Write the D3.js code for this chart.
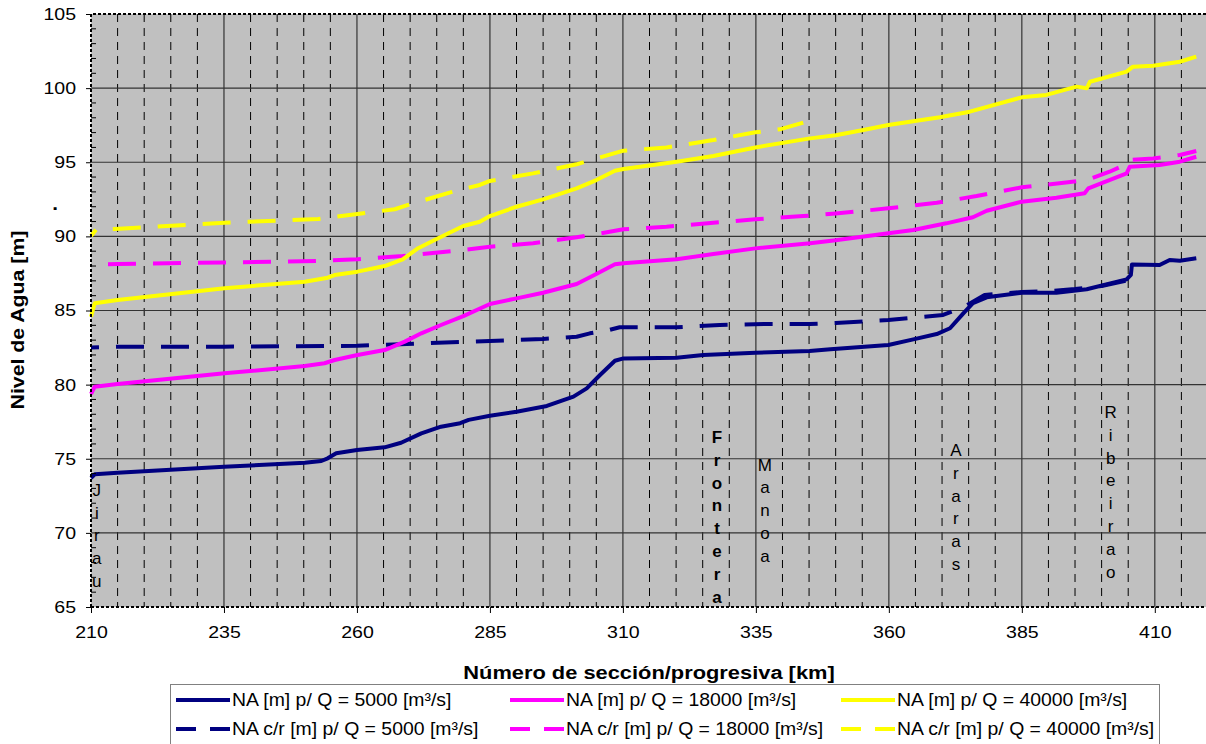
<!DOCTYPE html>
<html>
<head>
<meta charset="utf-8">
<script src="https://cdn.jsdelivr.net/npm/d3@7"></script>
<style>
  html, body { margin: 0; padding: 0; background: #ffffff; }
  svg { display: block; font-family: "Liberation Sans", Arial, sans-serif; }
</style>
</head>
<body>
<svg id="chart" width="1206" height="744"></svg>
<script>
// Water level profiles along the river (km) for three discharges,
// natural condition (NA) and with reservoir (NA c/r).

const km5000 = [210, 210.7, 215, 235, 250.2, 253.3, 254.5, 256.1, 260, 265.2, 268.3, 272.1, 275.8, 279.4, 281, 285, 290, 295.7, 300.7, 303.2, 305.7, 308.5, 310.1, 320.1, 325.1, 334.9, 345.1, 349, 359.9, 364.6, 369, 371.5, 374, 375.8, 378.4, 385, 391.5, 397.2, 404.7, 405.5, 405.7, 410.9, 412.8, 414.7, 417.8];
const na5000 = [73.7, 73.95, 74.06, 74.46, 74.73, 74.85, 75.03, 75.37, 75.59, 75.77, 76.08, 76.71, 77.16, 77.4, 77.62, 77.9, 78.17, 78.56, 79.19, 79.75, 80.65, 81.61, 81.77, 81.82, 82.0, 82.15, 82.27, 82.38, 82.67, 83.05, 83.41, 83.8, 84.81, 85.49, 85.89, 86.2, 86.2, 86.43, 87.1, 87.4, 88.11, 88.07, 88.41, 88.36, 88.52];

const km18000 = [210, 210.7, 215, 235.1, 250.2, 253.9, 255.8, 260.1, 265.2, 269, 272.1, 275.8, 280, 285, 290, 295, 301.3, 305, 308.5, 310.1, 320.1, 327, 334.9, 345.2, 350, 359.9, 364.6, 370.8, 375.8, 378.4, 385, 391.5, 396.8, 397.5, 404.7, 405.3, 410.9, 414.7, 417.8];
const na18000 = [79.37, 79.86, 80.04, 80.76, 81.26, 81.44, 81.66, 82.0, 82.33, 82.9, 83.46, 84.02, 84.62, 85.44, 85.82, 86.2, 86.79, 87.46, 88.12, 88.19, 88.45, 88.81, 89.19, 89.53, 89.74, 90.21, 90.43, 90.88, 91.29, 91.73, 92.34, 92.61, 92.91, 93.24, 94.25, 94.7, 94.81, 95.04, 95.37];

const km40000 = [210, 210.7, 215, 235.1, 250.2, 254.5, 255.8, 260.1, 265.2, 268.6, 271.5, 274.6, 280, 283.1, 285, 290, 295, 301.3, 305, 308.5, 310.1, 320.1, 327, 334.9, 345.2, 350, 355.2, 359.9, 369.6, 375.2, 385, 389.6, 395.3, 397.2, 397.8, 404.7, 405.9, 409.7, 414.7, 417.8];
const na40000 = [84.58, 85.49, 85.71, 86.5, 86.94, 87.21, 87.39, 87.62, 88.0, 88.45, 89.2, 89.76, 90.7, 90.99, 91.37, 92.0, 92.5, 93.24, 93.8, 94.43, 94.55, 95.04, 95.42, 96.0, 96.61, 96.82, 97.18, 97.51, 98.03, 98.41, 99.38, 99.54, 100.1, 99.99, 100.43, 101.11, 101.45, 101.51, 101.78, 102.12];

const kmRes5000 = [210, 215, 235, 260, 281.6, 295, 301.3, 303.8, 306.9, 309.4, 320.1, 328.2, 337, 345.1, 350, 359.9, 370.2, 374, 378, 385, 390, 395, 400, 404.5];
const naRes5000 = [82.5, 82.56, 82.56, 82.62, 82.9, 83.08, 83.23, 83.46, 83.64, 83.87, 83.87, 84.02, 84.09, 84.09, 84.16, 84.36, 84.7, 85.22, 86.05, 86.25, 86.3, 86.45, 86.65, 87.0];

const kmRes18000 = [210, 215, 235, 252.7, 260.1, 268.6, 280, 285, 293.1, 301.3, 305.7, 310.1, 318.2, 327, 334.9, 343.9, 350, 359.9, 369, 376.5, 385, 393.7, 397.2, 401.5, 405, 405.3, 409.7, 414.7, 417.8];
const naRes18000 = [88.1, 88.14, 88.24, 88.34, 88.45, 88.68, 89.08, 89.3, 89.53, 89.94, 90.2, 90.48, 90.65, 90.92, 91.15, 91.37, 91.54, 91.89, 92.27, 92.72, 93.31, 93.65, 93.8, 94.36, 94.93, 95.15, 95.26, 95.49, 95.76];

const kmRes40000 = [210, 211, 214.5, 235.1, 252.7, 260.1, 267.1, 269.6, 277.4, 280.9, 283.1, 285, 293.1, 301.3, 305.7, 310.1, 318.2, 327, 334.9, 339.5, 343.9];
const naRes40000 = [90.03, 90.48, 90.5, 90.92, 91.17, 91.51, 91.83, 92.12, 92.95, 93.28, 93.47, 93.74, 94.25, 94.86, 95.33, 95.78, 96.0, 96.5, 97.02, 97.22, 97.67];

const yTicks = [65, 70, 75, 80, 85, 90, 95, 100, 105];
const xTicks = [210, 235, 260, 285, 310, 335, 360, 385, 410];

const seriesNames = [
  "NA [m] p/ Q = 5000 [m³/s]",
  "NA [m] p/ Q = 18000 [m³/s]",
  "NA [m] p/ Q = 40000 [m³/s]",
  "NA c/r [m] p/ Q = 5000 [m³/s]",
  "NA c/r [m] p/ Q = 18000 [m³/s]",
  "NA c/r [m] p/ Q = 40000 [m³/s]"
];

// Station names written as stacked letters inside the plot
const stationNames = ["Jirau", "Frontera", "Manoa", "Araras", "Ribeirao"];
const stationKm = [211.1, 327.7, 336.7, 372.6, 401.7];
const stationTop = [72.5, 76.06, 74.2, 75.19, 77.75];
const stationBold = [false, true, false, false, false];

const colors = ["#000080", "#ff00ff", "#ffff00"];

const svg = d3.select("#chart");
const pL = 91, pT = 14, pB = 607, pR = 1208;
const stretch = 1.15; // text is drawn slightly wide

const x = d3.scaleLinear().domain([210, 420]).range([pL, pR]);
const y = d3.scaleLinear().domain([65, 105]).range([pB, pT]);

// plot area
svg.append("rect")
  .attr("x", pL).attr("y", pT)
  .attr("width", pR - pL).attr("height", pB - pT)
  .attr("fill", "#c0c0c0");

// minor vertical gridlines every 5 km (dashed)
const minorX = d3.range(215, 420, 5).filter(v => (v - 210) % 25 !== 0);
svg.append("g").selectAll("line")
  .data(minorX)
  .join("line")
  .attr("x1", d => x(d)).attr("x2", d => x(d))
  .attr("y1", pT).attr("y2", pB)
  .attr("stroke", "#000").attr("stroke-width", 1)
  .attr("stroke-dasharray", "8,6");

// major gridlines
svg.append("g").selectAll("line")
  .data(xTicks.slice(1))
  .join("line")
  .attr("x1", d => x(d)).attr("x2", d => x(d))
  .attr("y1", pT).attr("y2", pB)
  .attr("stroke", "#333").attr("stroke-width", 1.2);
svg.append("g").selectAll("line")
  .data(yTicks.slice(1, -1))
  .join("line")
  .attr("x1", pL).attr("x2", pR)
  .attr("y1", d => y(d)).attr("y2", d => y(d))
  .attr("stroke", "#333").attr("stroke-width", 1.2);

// series lines
const line = d3.line().x(d => x(d[0])).y(d => y(d[1]));
const zip = (a, b) => a.map((v, i) => [v, b[i]]);

const series = [
  { pts: zip(km5000, na5000), color: colors[0], dash: null },
  { pts: zip(km18000, na18000), color: colors[1], dash: null },
  { pts: zip(km40000, na40000), color: colors[2], dash: null },
  { pts: zip(kmRes5000, naRes5000), color: colors[0], dash: "28,17", off: 20 },
  { pts: zip(kmRes18000, naRes18000), color: colors[1], dash: "28,17", off: 28 },
  { pts: zip(kmRes40000, naRes40000), color: colors[2], dash: "28,17", off: 20 }
];

const gLines = svg.append("g");
// dashed (reservoir) series drawn first, natural profiles on top
[3, 4, 5, 0, 1, 2].forEach(i => {
  const s = series[i];
  gLines.append("path")
    .attr("d", line(s.pts))
    .attr("fill", "none")
    .attr("stroke", s.color)
    .attr("stroke-width", 4)
    .attr("stroke-linejoin", "round")
    .attr("stroke-dasharray", s.dash)
    .attr("stroke-dashoffset", s.dash ? s.off : null);
});

// station labels
stationNames.forEach((name, i) => {
  const t = svg.append("text")
    .attr("text-anchor", "middle")
    .attr("font-size", 17)
    .attr("font-weight", stationBold[i] ? "bold" : "normal")
    .attr("fill", "#000");
  name.split("").forEach((ch, j) => {
    t.append("tspan")
      .attr("x", x(stationKm[i]))
      .attr("y", y(stationTop[i]) + j * 22.8)
      .text(ch);
  });
});

// plot border (dotted)
svg.append("path")
  .attr("d", `M${pL},${pB}V${pT}H${pR}`)
  .attr("fill", "none").attr("stroke", "#000")
  .attr("stroke-width", 2).attr("stroke-dasharray", "3,2");
svg.append("line")
  .attr("x1", pL).attr("x2", pR).attr("y1", pB).attr("y2", pB)
  .attr("stroke", "#000").attr("stroke-width", 2).attr("stroke-dasharray", "3,2");

// y axis: major ticks outside, minor ticks inside
const yAxis = d3.axisLeft(y).tickValues(yTicks).tickSize(5).tickPadding(8);
const gy = svg.append("g").attr("transform", `translate(${pL},0)`).call(yAxis);
gy.select(".domain").remove();
gy.selectAll("text")
  .attr("font-size", 17).attr("font-family", "Liberation Sans, Arial, sans-serif")
  .attr("fill", "#000").attr("transform", `scale(${stretch},1)`);
svg.append("g").selectAll("line")
  .data(d3.range(66, 105, 1).filter(v => v % 5 !== 0))
  .join("line")
  .attr("x1", pL).attr("x2", pL + 5)
  .attr("y1", d => y(d)).attr("y2", d => y(d))
  .attr("stroke", "#000").attr("stroke-width", 1);

// x axis
const xAxis = d3.axisBottom(x).tickValues(xTicks).tickSize(6).tickPadding(13);
const gx = svg.append("g").attr("transform", `translate(0,${pB})`).call(xAxis);
gx.select(".domain").remove();
gx.selectAll("text")
  .attr("font-size", 17).attr("font-family", "Liberation Sans, Arial, sans-serif")
  .attr("fill", "#000").attr("transform", `scale(${stretch},1)`);

// helper for horizontally stretched text
function label(g, tx, ty, rot, txt, size, weight, anchor, sx) {
  return g.append("text")
    .attr("transform", `translate(${tx},${ty}) rotate(${rot}) scale(${sx || stretch},1)`)
    .attr("text-anchor", anchor)
    .attr("font-size", size).attr("font-weight", weight)
    .attr("fill", "#000")
    .text(txt);
}

// axis titles
label(svg, 24, 320, -90, "Nivel de Agua [m]", 18.5, "bold", "middle");
label(svg, 55, 210, 0, ".", 18, "bold", "middle");
label(svg, 649, 679, 0, "Número de sección/progresiva [km]", 19, "bold", "middle");

// legend
const lg = svg.append("g");
lg.append("rect")
  .attr("x", 170.5).attr("y", 684.5).attr("width", 989).attr("height", 70)
  .attr("fill", "#fff").attr("stroke", "#808080").attr("stroke-width", 1);
const colX = [172, 506, 837];
const rowY = [700, 729];
series.forEach((s, i) => {
  const col = i % 3, row = Math.floor(i / 3);
  lg.append("line")
    .attr("x1", colX[col] + 4).attr("x2", colX[col] + 58)
    .attr("y1", rowY[row]).attr("y2", rowY[row])
    .attr("stroke", s.color).attr("stroke-width", 4)
    .attr("stroke-dasharray", s.dash ? "20,14" : null);
  label(lg, colX[col] + 60, rowY[row] + 6, 0, seriesNames[i], 17.5, "normal", "start", 1.11);
});
</script>
</body>
</html>
